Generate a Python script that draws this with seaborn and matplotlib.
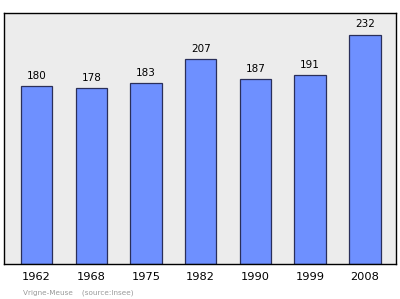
import matplotlib
matplotlib.use("Agg")
import matplotlib.pyplot as plt
import seaborn as sns
import pandas as pd

years = ["1962", "1968", "1975", "1982", "1990", "1999", "2008"]
population = [180, 178, 183, 207, 187, 191, 232]

df = pd.DataFrame({"year": years, "pop": population})

sns.set_theme(style="white")
plt.rcParams['font.family'] = ['DejaVu Sans']

fig = plt.figure(figsize=(4.0, 2.99), dpi=100)
ax = fig.add_axes([4/400, 1 - 264/299, 392/400, 251/299])
ax.set_facecolor("#ececec")

sns.barplot(data=df, x="year", y="pop", ax=ax, color="#6e90ff",
            edgecolor="#2a2f5a", linewidth=0.9, width=0.575, saturation=1)

for i, v in enumerate(population):
    ax.text(i, v + 5.5, str(v), ha="center", va="bottom", fontsize=7.5, color="black")

ax.set_xlim(-0.595, 6.57)
ax.set_ylim(0, 254)
ax.set_yticks([])
ax.set_xlabel("")
ax.set_ylabel("")
ax.tick_params(axis="x", length=0, labelsize=8.2, pad=5.5, colors="black")
for s in ax.spines.values():
    s.set_visible(True)
    s.set_color("black")
    s.set_linewidth(1.0)

fig.text(23/400, 1 - 292.5/299, "Vrigne-Meuse    (source:Insee)", fontsize=5.2,
         color="#999999", ha="left", va="center")

fig.savefig("out.png", dpi=100, facecolor="white")
